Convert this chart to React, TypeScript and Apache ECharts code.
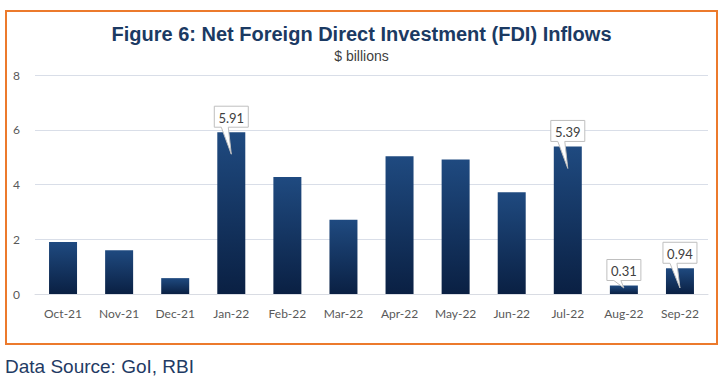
import React, { useEffect, useRef } from "react";
import * as echarts from "echarts";

const categories = ["Oct-21", "Nov-21", "Dec-21", "Jan-22", "Feb-22", "Mar-22", "Apr-22", "May-22", "Jun-22", "Jul-22", "Aug-22", "Sep-22"];
const fdiValues = [1.9, 1.6, 0.58, 5.91, 4.27, 2.71, 5.03, 4.91, 3.72, 5.39, 0.31, 0.94];
const calloutIndices = [3, 9, 10, 11];
const yTicks = [0, 2, 4, 6, 8];

export default function App() {
  const ref = useRef<HTMLDivElement>(null);
  useEffect(() => {
    document.body.style.margin = "0";
    const chart = echarts.init(ref.current!, null, { renderer: "svg" });
    const calloutData = calloutIndices.map((i) => [i, fdiValues[i]]);
    chart.setOption({
      animation: false,
      backgroundColor: "#ffffff",
      title: {
        text: "Figure 6: Net Foreign Direct Investment (FDI) Inflows",
        subtext: "$ billions",
        left: "center",
        top: 19,
        itemGap: 5,
        textStyle: { fontFamily: "Liberation Sans", fontWeight: "bold", fontSize: 20, color: "#1B3A63" },
        subtextStyle: { fontFamily: "Liberation Sans", fontSize: 14, color: "#404040" },
      },
      graphic: [
        {
          type: "rect",
          shape: { x: 6, y: 11, width: 711, height: 333 },
          style: { fill: "none", stroke: "#EC7A2C", lineWidth: 2 },
          silent: true,
        },
        {
          type: "text",
          left: 5,
          top: 357,
          style: { text: "Data Source: GoI, RBI", fontFamily: "Liberation Sans", fontSize: 19, fill: "#1F3B64" },
        },
      ],
      grid: { left: 35, right: 15, top: 75, bottom: 93, containLabel: false },
      xAxis: {
        type: "category",
        data: categories,
        axisLine: { show: true, lineStyle: { color: "#D9DCE3", width: 1 } },
        axisTick: { show: false },
        axisLabel: { color: "#595959", fontFamily: "Lato", fontSize: 12, margin: 13 },
      },
      yAxis: {
        type: "value",
        min: yTicks[0],
        max: yTicks[yTicks.length - 1],
        interval: 2,
        axisLine: { show: false },
        axisTick: { show: false },
        axisLabel: { color: "#595959", fontFamily: "Lato", fontSize: 12, margin: 15 },
        splitLine: { lineStyle: { color: "#D9DEE8", width: 1 } },
      },
      series: [
        {
          type: "bar",
          data: fdiValues,
          barWidth: 28,
          itemStyle: {
            color: new echarts.graphic.LinearGradient(0, 0, 0, 1, [
              { offset: 0, color: "#1F4A80" },
              { offset: 1, color: "#0A2043" },
            ]),
          },
          z: 2,
        },
        {
          type: "custom",
          data: calloutData,
          z: 5,
          renderItem: (params: any, api: any) => {
            const idx = api.value(0);
            const val = api.value(1);
            const p = api.coord([idx, val]);
            const zero = api.coord([idx, 0]);
            const x = p[0];
            const bottom = p[1] - 5;
            const top = bottom - 21;
            const halfW = 17;
            const tipY = Math.min(p[1] + 22, zero[1] - 6);
            return {
              type: "group",
              children: [
                {
                  type: "polygon",
                  shape: {
                    points: [
                      [x - halfW, top],
                      [x + halfW, top],
                      [x + halfW, bottom],
                      [x - 3, bottom],
                      [x, tipY],
                      [x - 10, bottom],
                      [x - halfW, bottom],
                    ],
                  },
                  style: { fill: "#ffffff", stroke: "#BFBFBF", lineWidth: 1 },
                },
                {
                  type: "text",
                  x: x,
                  y: (top + bottom) / 2 + 1,
                  style: {
                    text: val.toFixed(2),
                    fontFamily: "Lato",
                    fontSize: 13,
                    fill: "#404040",
                    align: "center",
                    verticalAlign: "middle",
                  },
                },
              ],
            };
          },
        },
      ],
    });
    return () => chart.dispose();
  }, []);
  return <div ref={ref} style={{ width: 723, height: 387 }} />;
}
